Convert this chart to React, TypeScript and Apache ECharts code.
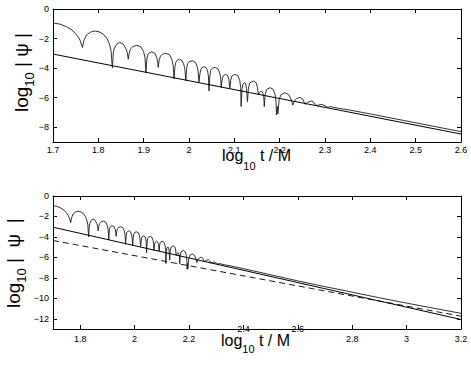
import React, { useEffect, useRef } from "react";
import * as echarts from "echarts";

// oscillating signal log10|psi| vs log10 t/M
const oscData: [number, number][] = [
  [1.7, -0.95], [1.715, -1.02], [1.73, -1.2], [1.742, -1.42], [1.749, -1.65], [1.756, -1.9], [1.76, -2.15], [1.765, -2.6],
  [1.768, -2.15], [1.774, -1.76], [1.783, -1.56], [1.793, -1.49], [1.803, -1.56], [1.811, -1.71], [1.819, -2.0], [1.824, -2.32], [1.828, -2.8], [1.831, -4.0],
  [1.833, -3.0], [1.835, -2.7], [1.84, -2.4], [1.847, -2.25], [1.855, -2.37], [1.861, -2.7], [1.864, -2.95], [1.866, -3.4],
  [1.868, -3.0], [1.871, -2.7], [1.876, -2.55], [1.885, -2.45], [1.894, -2.57], [1.9, -2.9], [1.903, -3.3], [1.905, -4.3],
  [1.907, -3.4], [1.909, -3.1], [1.912, -2.97], [1.918, -2.9], [1.925, -3.0], [1.929, -3.3], [1.931, -3.6], [1.932, -3.95],
  [1.934, -3.5], [1.937, -3.2], [1.941, -3.07], [1.949, -3.0], [1.957, -3.1], [1.962, -3.4], [1.965, -3.8], [1.967, -4.72],
  [1.969, -3.9], [1.971, -3.6], [1.974, -3.47], [1.979, -3.4], [1.985, -3.5], [1.989, -3.8], [1.991, -4.1], [1.993, -4.85],
  [1.995, -4.0], [1.997, -3.7], [2.0, -3.57], [2.007, -3.5], [2.014, -3.6], [2.018, -3.9], [2.02, -4.2], [2.022, -4.95],
  [2.024, -4.4], [2.026, -4.1], [2.028, -3.97], [2.033, -3.9], [2.038, -3.97], [2.041, -4.2], [2.043, -4.6], [2.044, -5.55],
  [2.046, -4.5], [2.048, -4.15], [2.051, -4.02], [2.057, -3.95], [2.064, -4.05], [2.068, -4.35], [2.07, -4.7], [2.071, -5.32],
  [2.073, -4.8], [2.075, -4.55], [2.08, -4.42], [2.085, -4.5], [2.088, -4.75], [2.09, -5.37],
  [2.092, -4.85], [2.094, -4.55], [2.101, -4.42], [2.108, -4.52], [2.112, -4.85], [2.114, -5.3], [2.115, -6.6],
  [2.117, -5.4], [2.119, -5.08], [2.122, -4.98], [2.125, -5.05], [2.127, -5.4], [2.129, -6.27],
  [2.131, -5.4], [2.134, -5.0], [2.142, -4.87], [2.148, -4.98], [2.151, -5.3], [2.153, -5.82],
  [2.155, -5.65], [2.16, -5.55], [2.163, -5.7], [2.165, -6.0], [2.166, -6.6],
  [2.168, -5.8], [2.171, -5.45], [2.179, -5.32], [2.186, -5.45], [2.19, -5.8], [2.192, -6.3], [2.193, -7.17], [2.195, -6.6], [2.196, -7.1],
  [2.199, -6.1], [2.203, -5.8], [2.212, -5.66], [2.22, -5.8], [2.225, -6.1], [2.229, -6.5],
  [2.233, -6.2], [2.238, -6.05], [2.245, -5.98], [2.251, -6.1], [2.256, -6.45],
  [2.261, -6.32], [2.271, -6.22], [2.276, -6.35], [2.28, -6.54],
  [2.286, -6.5], [2.293, -6.45], [2.3, -6.55], [2.306, -6.65],
  [2.313, -6.6], [2.32, -6.66], [2.33, -6.72], [2.355, -6.84], [2.4, -7.1], [2.5, -7.7], [2.6, -8.3],
  [2.7, -8.86], [2.8, -9.4], [2.9, -9.95], [3.0, -10.47], [3.1, -10.97], [3.2, -11.47],
];
const straightLine: [number, number][] = [[1.7, -3.05], [3.2, -12.07]];
const dashedLine: [number, number][] = [[1.7, -4.35], [3.2, -11.75]];

const topXTicks = [1.7, 1.8, 1.9, 2.0, 2.1, 2.2, 2.3, 2.4, 2.5, 2.6];
const topYTicks = [-8, -6, -4, -2, 0];
const botXTicks = [1.8, 2.0, 2.2, 2.4, 2.6, 2.8, 3.0, 3.2];
const botXLowLabels = [1.8, 2.0, 2.2, 2.8, 3.0, 3.2];
const botXRaisedLabels = [2.4, 2.6];
const botYTicks = [-12, -10, -8, -6, -4, -2, 0];

const FONT = "'Liberation Sans', Arial, Helvetica, sans-serif";

const fmt = (v: number) => String(+Number(v).toFixed(2)).replace("-", "\u2212");

function makeX(
  grid: number, min: number, max: number, ticks: number[], labels: number[],
  pos: "top" | "bottom", opts: { showLine?: boolean; showLabel?: boolean; margin?: number } = {}
) {
  const showLine = opts.showLine !== false;
  return {
    type: "value",
    gridIndex: grid,
    min,
    max,
    position: pos,
    splitLine: { show: false },
    axisLine: { show: showLine, onZero: false, lineStyle: { color: "#000", width: 1 } },
    axisTick: { show: showLine, inside: true, length: 4, customValues: ticks, lineStyle: { color: "#000", width: 1 } },
    axisLabel: {
      show: !!opts.showLabel,
      customValues: labels,
      formatter: fmt,
      fontSize: 9,
      color: "#000",
      fontFamily: FONT,
      margin: opts.margin ?? 3,
    },
  };
}
function makeY(grid: number, min: number, max: number, ticks: number[], pos: "left" | "right") {
  return {
    type: "value",
    gridIndex: grid,
    min,
    max,
    position: pos,
    splitLine: { show: false },
    axisLine: { show: true, onZero: false, lineStyle: { color: "#000", width: 1 } },
    axisTick: { show: true, inside: true, length: 4, customValues: ticks, lineStyle: { color: "#000", width: 1 } },
    axisLabel: {
      show: pos === "left",
      customValues: ticks,
      formatter: fmt,
      fontSize: 9,
      color: "#000",
      fontFamily: FONT,
      margin: 4,
    },
  };
}

function xTitle(left: number, midY: number, subY: number) {
  return [
    { type: "text", x: left, y: midY, style: { text: "log", fontSize: 16, fontFamily: FONT, fill: "#000", align: "left", verticalAlign: "middle" } },
    { type: "text", x: left + 21.3, y: subY, style: { text: "10", fontSize: 11, fontFamily: FONT, fill: "#000", align: "left", verticalAlign: "middle" } },
    { type: "text", x: left + 33.5, y: midY, style: { text: " t / M", fontSize: 16, fontFamily: FONT, fill: "#000", align: "left", verticalAlign: "middle" } },
  ];
}
function yTitle(bx: number, by: number, tail: string) {
  return {
    type: "group",
    x: bx,
    y: by,
    rotation: Math.PI / 2,
    children: [
      { type: "text", x: 0, y: -6.6, style: { text: "log", fontSize: 19, fontFamily: FONT, fill: "#000", align: "left", verticalAlign: "middle" } },
      { type: "text", x: 25.3, y: 1, style: { text: "10", fontSize: 13, fontFamily: FONT, fill: "#000", align: "left", verticalAlign: "middle" } },
      { type: "text", x: 39.8, y: -6.6, style: { text: tail, fontSize: 19, fontFamily: FONT, fill: "#000", align: "left", verticalAlign: "middle" } },
    ],
  };
}

export default function App() {
  const ref = useRef<HTMLDivElement>(null);
  useEffect(() => {
    if (!ref.current) return;
    const chart = echarts.init(ref.current, null, { renderer: "svg" });
    const oscStyle = { color: "#1a1a1a", width: 0.9 };
    chart.setOption({
      animation: false,
      backgroundColor: "#fff",
      grid: [
        { left: 53, top: 9, width: 408, height: 133 },
        { left: 53, top: 196, width: 408, height: 133 },
      ],
      xAxis: [
        makeX(0, 1.7, 2.6, topXTicks, topXTicks, "bottom", { showLabel: true, margin: 3 }),
        makeX(0, 1.7, 2.6, topXTicks, topXTicks, "top"),
        makeX(1, 1.7, 3.2, botXTicks, botXLowLabels, "bottom", { showLabel: true, margin: 5 }),
        makeX(1, 1.7, 3.2, botXTicks, botXTicks, "top"),
        makeX(1, 1.7, 3.2, botXTicks, botXRaisedLabels, "bottom", { showLine: false, showLabel: true, margin: -5 }),
      ],
      yAxis: [
        makeY(0, -9, 0, topYTicks, "left"),
        makeY(0, -9, 0, topYTicks, "right"),
        makeY(1, -13, 0, botYTicks, "left"),
        makeY(1, -13, 0, botYTicks, "right"),
      ],
      series: [
        { type: "line", xAxisIndex: 0, yAxisIndex: 0, data: oscData, symbol: "none", clip: true, lineStyle: oscStyle },
        { type: "line", xAxisIndex: 0, yAxisIndex: 0, data: straightLine, symbol: "none", clip: true, lineStyle: { color: "#000", width: 1 } },
        { type: "line", xAxisIndex: 2, yAxisIndex: 2, data: oscData, symbol: "none", clip: true, lineStyle: oscStyle },
        { type: "line", xAxisIndex: 2, yAxisIndex: 2, data: straightLine, symbol: "none", clip: true, lineStyle: { color: "#000", width: 1 } },
        { type: "line", xAxisIndex: 2, yAxisIndex: 2, data: dashedLine, symbol: "none", clip: true, lineStyle: { color: "#000", width: 0.9, type: [6, 4] } },
      ],
      graphic: [
        ...xTitle(222, 155, 166),
        ...xTitle(221, 340, 348.5),
        yTitle(28.3, 112, " | \u03C8 |"),
        yTitle(20, 308, " |  \u03C8  |"),
      ],
    });
    return () => chart.dispose();
  }, []);
  return (
    <div
      ref={ref}
      style={{ position: "fixed", left: 0, top: 0, width: 471, height: 367, background: "#fff" }}
    />
  );
}
